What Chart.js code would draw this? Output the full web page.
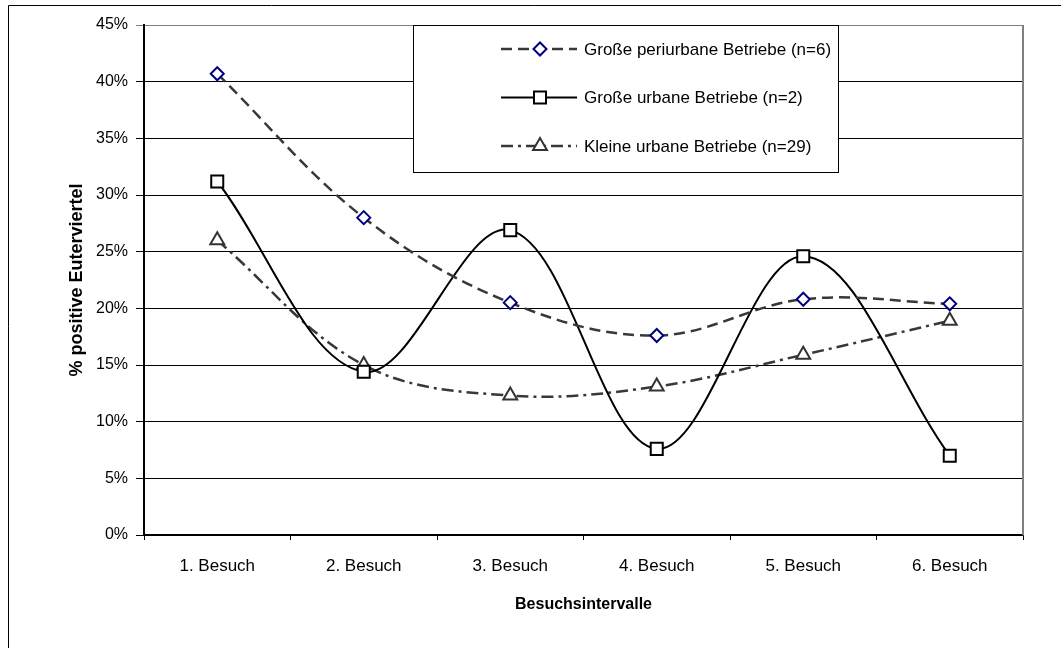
<!DOCTYPE html>
<html lang="de">
<head>
<meta charset="utf-8">
<title>Positive Euterviertel je Besuch</title>
<script src="https://cdn.jsdelivr.net/npm/chart.js@4/dist/chart.umd.min.js"></script>
<style>
  html, body { margin: 0; padding: 0; background: #fff; }
  #wrap { position: relative; width: 1061px; height: 648px; }
</style>
</head>
<body>
<div id="wrap"><canvas id="chart" width="1061" height="648"></canvas></div>
<script>
// Anteil positiver Euterviertel je Besuch (%)
const besuche = ["1. Besuch", "2. Besuch", "3. Besuch", "4. Besuch", "5. Besuch", "6. Besuch"];
const grossPeriurban = [40.7, 28.0, 20.5, 17.6, 20.8, 20.4];
const grossUrban = [31.2, 14.4, 26.9, 7.6, 24.6, 7.0];
const kleinUrban = [26.0, 15.0, 12.3, 13.1, 15.9, 18.9];
const yMax = 45;
const yStep = 5;

const FONT = '"Liberation Sans", Arial, Helvetica, sans-serif';
Chart.defaults.font.family = FONT;
Chart.defaults.color = "#000";

// legend frame inside the plot area
const legendBox = { left: 413, top: 25, right: 838, bottom: 172 };

function drawMarker(ctx, ds, x, y) {
  ctx.save();
  ctx.setLineDash([]);
  ctx.lineWidth = ds.pointBorderWidth;
  ctx.strokeStyle = ds.pointBorderColor;
  ctx.fillStyle = ds.pointBackgroundColor;
  Chart.helpers.drawPoint(ctx, {
    pointStyle: ds.pointStyle,
    radius: ds.pointRadius,
    rotation: 0,
    borderWidth: ds.pointBorderWidth
  }, x, y);
  ctx.restore();
}

const boxLegend = {
  id: "boxLegend",
  beforeDatasetsDraw(chart) {
    const ctx = chart.ctx;
    const b = legendBox;
    ctx.save();
    ctx.fillStyle = "#fff";
    ctx.fillRect(b.left, b.top, b.right - b.left, b.bottom - b.top);
    ctx.strokeStyle = "#000";
    ctx.lineWidth = 1;
    ctx.strokeRect(b.left + 0.5, b.top + 0.5, b.right - b.left, b.bottom - b.top);

    ctx.font = "17px " + FONT;
    ctx.textBaseline = "middle";
    ctx.textAlign = "left";
    chart.data.datasets.forEach((ds, i) => {
      const y = b.top + 24 + i * 48.5;
      ctx.save();
      ctx.strokeStyle = ds.borderColor;
      ctx.lineWidth = ds.borderWidth;
      ctx.setLineDash(ds.borderDash || []);
      ctx.beginPath();
      ctx.moveTo(b.left + 88, y);
      ctx.lineTo(b.left + 164, y);
      ctx.stroke();
      ctx.restore();
      drawMarker(ctx, ds, b.left + 127, y);
      ctx.fillStyle = "#000";
      ctx.fillText(ds.label, b.left + 171, y + 1);
    });
    ctx.restore();
  }
};

const frames = {
  id: "frames",
  beforeDraw(chart) {
    const ctx = chart.ctx;
    ctx.save();
    ctx.fillStyle = "#fff";
    ctx.fillRect(0, 0, chart.width, chart.height);
    // outer chart border (left and top edge)
    ctx.strokeStyle = "#000";
    ctx.lineWidth = 1;
    ctx.beginPath();
    ctx.moveTo(8.5, chart.height);
    ctx.lineTo(8.5, 5.5);
    ctx.lineTo(chart.width, 5.5);
    ctx.stroke();
    ctx.restore();
  },
  afterDraw(chart) {
    const a = chart.chartArea;
    const ctx = chart.ctx;
    ctx.save();
    ctx.strokeStyle = "#808080";
    ctx.lineWidth = 2;
    ctx.beginPath();
    ctx.moveTo(a.right, a.top);
    ctx.lineTo(a.right, a.bottom);
    ctx.stroke();
    ctx.restore();
  }
};

new Chart(document.getElementById("chart"), {
  type: "line",
  data: {
    labels: besuche,
    datasets: [
      {
        label: "Große periurbane Betriebe (n=6)",
        data: grossPeriurban,
        borderColor: "#383838",
        borderWidth: 2.5,
        borderDash: [11, 6],
        pointStyle: "rectRot",
        pointRadius: 6.5,
        pointBorderColor: "#000080",
        pointBackgroundColor: "#fff",
        pointBorderWidth: 2
      },
      {
        label: "Große urbane Betriebe (n=2)",
        data: grossUrban,
        borderColor: "#000",
        borderWidth: 2,
        pointStyle: "rect",
        pointRadius: 8.5,
        pointBorderColor: "#000",
        pointBackgroundColor: "#fff",
        pointBorderWidth: 2
      },
      {
        label: "Kleine urbane Betriebe (n=29)",
        data: kleinUrban,
        borderColor: "#383838",
        borderWidth: 2.5,
        borderDash: [12, 5, 3, 5],
        pointStyle: "triangle",
        pointRadius: 8,
        pointBorderColor: "#333",
        pointBackgroundColor: "#fff",
        pointBorderWidth: 2
      }
    ]
  },
  options: {
    responsive: false,
    animation: false,
    tension: 0.36,
    layout: { padding: { left: 0, right: 38, top: 25, bottom: 0 } },
    plugins: {
      legend: { display: false },
      tooltip: { enabled: false }
    },
    scales: {
      x: {
        offset: true,
        grid: { offset: true, drawOnChartArea: false, tickLength: 5, color: "#000" },
        border: { color: "#000", width: 1.5 },
        ticks: { font: { size: 17 }, padding: 16, color: "#000" },
        title: {
          display: true,
          text: "Besuchsintervalle",
          font: { size: 16, weight: "bold" },
          padding: { top: 34, bottom: 34 }
        },
        afterFit(scale) { scale.height = 113; }
      },
      y: {
        min: 0,
        max: yMax,
        grid: {
          tickLength: 8,
          color: (c) => (c.tick && c.tick.value === yMax ? "#808080" : "#000"),
          lineWidth: 1
        },
        border: { color: "#000", width: 2 },
        ticks: {
          stepSize: yStep,
          font: { size: 16 },
          padding: 8,
          color: "#000",
          callback: (v) => v + "%"
        },
        title: {
          display: true,
          text: "% positive Euterviertel",
          font: { size: 18, weight: "bold" },
          padding: { top: 66, bottom: 0 }
        },
        afterFit(scale) { scale.width = 144; }
      }
    }
  },
  plugins: [frames, boxLegend]
});
</script>
</body>
</html>
